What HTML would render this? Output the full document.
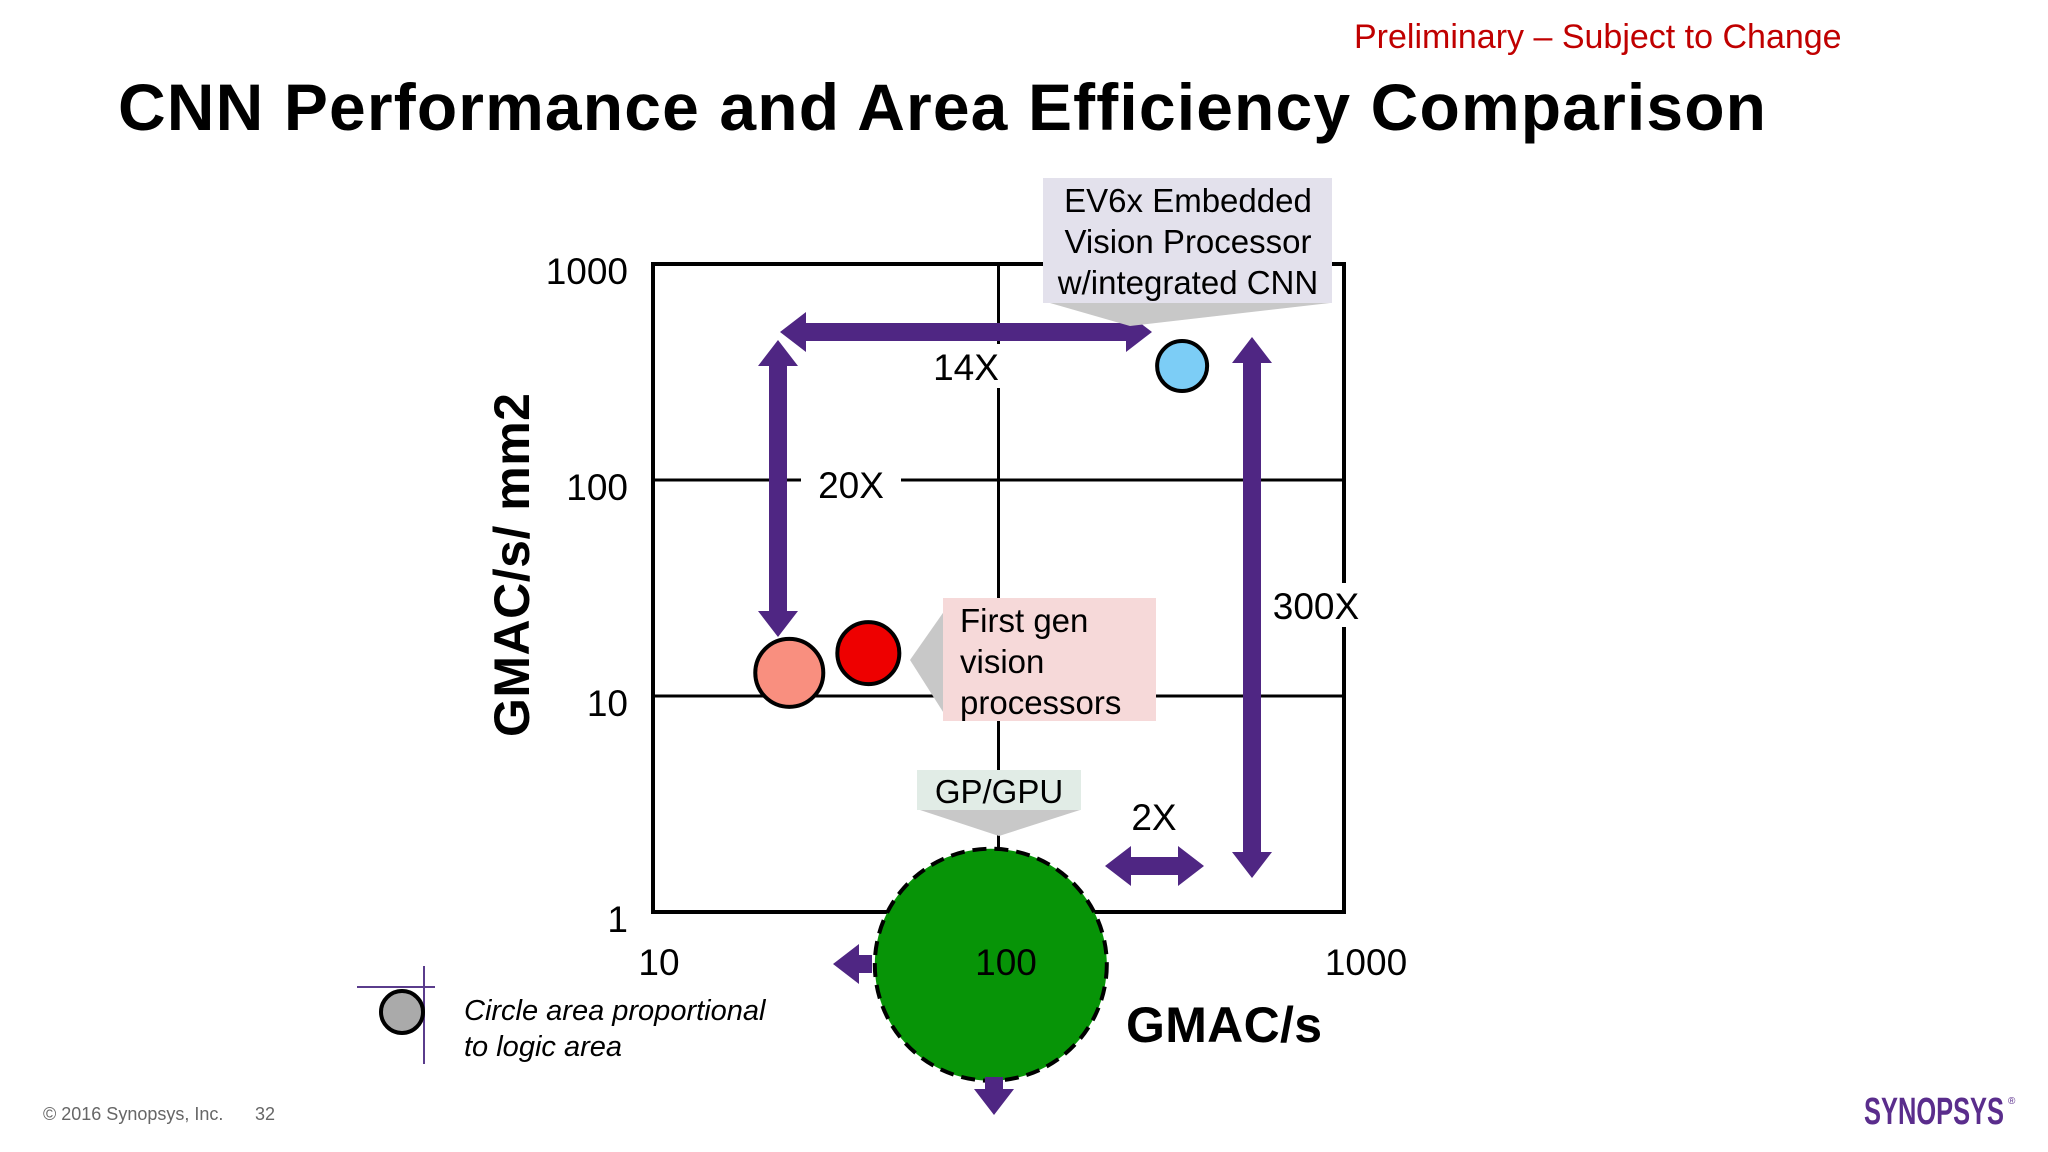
<!DOCTYPE html>
<html><head><meta charset="utf-8">
<style>
html,body{margin:0;padding:0;background:#fff;}
svg{display:block;font-family:"Liberation Sans",Arial,sans-serif;}
</style></head>
<body>
<svg id="c" width="2048" height="1152" viewBox="0 0 2048 1152" xmlns="http://www.w3.org/2000/svg">
<text x="1354" y="48" font-size="34" fill="#c00000">Preliminary – Subject to Change</text>
<text x="118" y="130" font-size="66" font-weight="bold" fill="#000" textLength="1648">CNN Performance and Area Efficiency Comparison</text>
<g id="plot"></g>
<text x="43" y="1120" font-size="18" fill="#666">© 2016 Synopsys, Inc.</text>
<text x="255" y="1120" font-size="18" fill="#666">32</text>
<text x="1864" y="1124" font-size="38" font-weight="bold" fill="#5a2d8c" textLength="140" lengthAdjust="spacingAndGlyphs">SYNOPSYS</text>
<text x="2008" y="1104" font-size="10" fill="#5a2d8c">®</text>
</svg>
<script>
const xTicks = [10, 100, 1000];
const yTicks = [1, 10, 100, 1000];
const pointNames = ["first-gen-a", "first-gen-b", "ev6x", "gpu"];
const pointX = [24.8, 42, 340, 95];
const pointY = [12.8, 15.8, 337, 0.57];
const pointR = [34, 31, 25, 116];
const pointFill = ["#f98f7f", "#ee0000", "#7ccdf6", "#079407"];

const NS = "http://www.w3.org/2000/svg";
const L = 653, R = 1344, T = 264, B = 912;
const xs = v => L + (Math.log10(v) - 1) / 2 * (R - L);
const ys = v => B - Math.log10(v) / 3 * (B - T);
const g = document.getElementById('plot');
function mk(tag, attrs, parent) {
  const e = document.createElementNS(NS, tag);
  for (const k in attrs) e.setAttribute(k, attrs[k]);
  (parent || g).appendChild(e);
  return e;
}
const PURPLE = "#4f2683";

yTicks.slice(1, 3).forEach(v => {
  const l = mk('line', {x1: L, x2: R, y1: ys(v), y2: ys(v), stroke: '#000', 'stroke-width': 3});
  
  
});
xTicks.slice(1, 2).forEach(v => {
  const l = mk('line', {x1: xs(v), x2: xs(v), y1: T, y2: B, stroke: '#000', 'stroke-width': 3});
  
  
});
const frame = mk('rect', {x: L, y: T, width: R - L, height: B - T, fill: 'none', stroke: '#000', 'stroke-width': 4});



yTicks.forEach(v => {
  const t = mk('text', {x: 628, y: ys(v) + 20, 'font-size': 37, 'text-anchor': 'end'});
  t.textContent = v;
  
  
});
xTicks.forEach((v, i) => {
  const t = mk('text', {x: xs(v) + [6, 7, 22][i], y: 975, 'font-size': 37, 'text-anchor': 'middle'});
  t.textContent = v;
  
  
});
const yt = mk('text', {x: 0, y: 0, 'font-size': 50, 'font-weight': 'bold', 'text-anchor': 'middle', textLength: 344, transform: 'translate(529,565) rotate(-90)'});
yt.textContent = 'GMAC/s/ mm2';



function arrow(x1, y1, x2, y2, both, name) {
  const dx = x2 - x1, dy = y2 - y1, len = Math.hypot(dx, dy);
  const a = Math.atan2(dy, dx) * 180 / Math.PI;
  const w = 9, hw = 20, hl = 26;
  const s = both ? hl : 0;
  const p = `${s},${-w} ${len - hl},${-w} ${len - hl},${-hw} ${len},0 ${len - hl},${hw} ${len - hl},${w} ${s},${w}` +
    (both ? ` ${hl},${hw} 0,0 ${hl},${-hw}` : ` 0,${w} 0,${-w}`);
  const e = mk('polygon', {points: p, fill: PURPLE, transform: `translate(${x1},${y1}) rotate(${a})`});
  
  
}
function label(x, y, txt, name, bg) {
  if (bg) {
    const r = mk('rect', {x: x - bg / 2, y: y - 24, width: bg, height: 44, fill: '#fff'});
    
    
  }
  const t = mk('text', {x: x, y: y + 12, 'font-size': 37, 'text-anchor': 'middle'});
  t.textContent = txt;
  
  
}

function callout(x, y, w, h, fill, tip, base, lines, tx, anchor, name) {
  const tri = mk('polygon', {points: base + ' ' + tip, fill: '#c8c8c8'});
  
  
  const r = mk('rect', {x: x, y: y, width: w, height: h, fill: fill});
  
  
  lines.forEach((s, i) => {
    const t = mk('text', {x: tx, y: y + 34 + i * 41, 'font-size': 33, 'text-anchor': anchor});
    t.textContent = s;
    
    
  });
}

pointX.forEach((v, i) => {
  const c = mk('circle', {cx: xs(v), cy: ys(pointY[i]), r: pointR[i], fill: pointFill[i], stroke: '#000', 'stroke-width': 4});
  if (pointNames[i] === 'gpu') c.setAttribute('stroke-dasharray', '14 8');
  
  
});
const gl = mk('text', {x: 1006, y: 975, 'font-size': 37, 'text-anchor': 'middle'});
gl.textContent = '100';



arrow(780, 332, 1152, 332, true, 'arrow-14x');
arrow(778, 340, 778, 637, true, 'arrow-20x');
arrow(1252, 337, 1252, 878, true, 'arrow-300x');
arrow(1105, 866, 1204, 866, true, 'arrow-2x');
arrow(872, 964, 833, 964, false, 'arrow-gpu-left');
arrow(994, 1077, 994, 1115, false, 'arrow-gpu-down');

label(966, 368, '14X', 'label-14x', 80);
label(851, 486, '20X', 'label-20x', 100);
label(1316, 607, '300X', 'label-300x', 100);
label(1154, 818, '2X', 'label-2x', 0);

callout(1043, 178, 289, 125, '#e3e1ec', '1130,326', '1050,303 1330,303',
  ['EV6x Embedded', 'Vision Processor', 'w/integrated CNN'], 1188, 'middle', 'callout-ev6x');
callout(943, 598, 213, 123, '#f6d9d9', '910,660', '945,610 945,715',
  ['First gen', 'vision', 'processors'], 960, 'start', 'callout-first-gen');
callout(917, 770, 164, 40, '#e1ece6', '999,836', '920,810 1080,810',
  [], 0, 'start', 'callout-gpu');
const gt = mk('text', {x: 999, y: 803, 'font-size': 33, 'text-anchor': 'middle'});
gt.textContent = 'GP/GPU';



const xt = mk('text', {x: 1126, y: 1042, 'font-size': 50, 'font-weight': 'bold', textLength: 196});
xt.textContent = 'GMAC/s';



const lh = mk('line', {x1: 357, x2: 435, y1: 987, y2: 987, stroke: '#5a3c8c', 'stroke-width': 2});


const lv = mk('line', {x1: 424, x2: 424, y1: 966, y2: 1064, stroke: '#5a3c8c', 'stroke-width': 2});


const lc = mk('circle', {cx: 402, cy: 1012, r: 21, fill: '#aaa', stroke: '#000', 'stroke-width': 4});


['Circle area proportional', 'to logic area'].forEach((s, i) => {
  const t = mk('text', {x: 464, y: 1020 + i * 36, 'font-size': 29, 'font-style': 'italic'});
  t.textContent = s;
  
  
});
</script>
</body></html>
